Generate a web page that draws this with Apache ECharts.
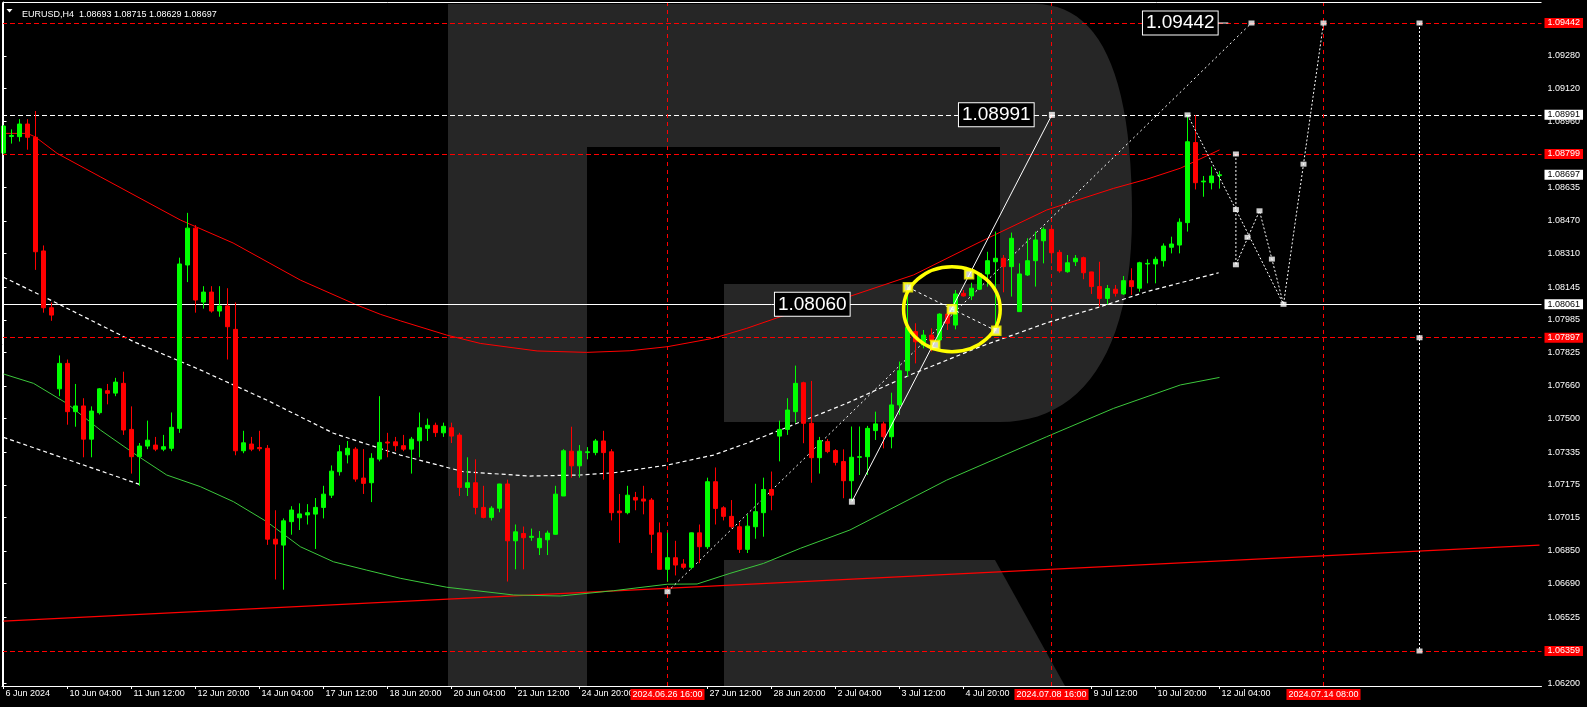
<!DOCTYPE html>
<html><head><meta charset="utf-8">
<script src="https://cdn.jsdelivr.net/npm/echarts@6/dist/echarts.min.js"></script>
<style>html,body{margin:0;padding:0;background:#000;overflow:hidden}#c{width:1587px;height:707px}</style>
</head><body><div id="c"></div>
<script>
// ---------- data ----------
const headerText = 'EURUSD,H4  1.08693 1.08715 1.08629 1.08697';
const xTickIdx = [0,8,16,24,32,40,48,56,64,72,88,96,104,112,120,136,144,152];
const xTickLabels = ['6 Jun 2024','10 Jun 04:00','11 Jun 12:00','12 Jun 20:00','14 Jun 04:00','17 Jun 12:00','18 Jun 20:00','20 Jun 04:00','21 Jun 12:00','24 Jun 20:00','27 Jun 12:00','28 Jun 20:00','2 Jul 04:00','3 Jul 12:00','4 Jul 20:00','9 Jul 12:00','10 Jul 20:00','12 Jul 04:00'];
const yTickVals = [1.062,1.06525,1.0669,1.0685,1.07015,1.07175,1.07335,1.075,1.0766,1.07825,1.07985,1.08145,1.0831,1.0847,1.08635,1.0896,1.0912,1.0928];

const openP = [1.08804,1.08885,1.08884,1.08946,1.08881,1.08323,1.08044,1.07646,1.07771,1.07534,
1.07562,1.07399,1.07529,1.07637,1.07625,1.07673,1.07447,1.07313,1.07365,1.07370,
1.07350,1.07354,1.07452,1.08254,1.08435,1.08072,1.08121,1.08028,1.08053,1.07938,
1.07342,1.07375,1.07358,1.07354,1.06908,1.06879,1.06994,1.07013,1.07027,1.07031,
1.07064,1.07124,1.07239,1.07322,1.07350,1.07208,1.07185,1.07301,1.07385,1.07386,
1.07367,1.07350,1.07391,1.07452,1.07467,1.07430,1.07455,1.07419,1.07162,1.07185,
1.07064,1.07015,1.07060,1.07179,1.06900,1.06936,1.06917,1.06866,1.06905,1.06932,
1.07120,1.07340,1.07268,1.07333,1.07333,1.07390,1.07337,1.07046,1.07038,1.07113,
1.07105,1.07100,1.06939,1.06760,1.06817,1.06786,1.06770,1.06939,1.06871,1.07190,
1.07062,1.07020,1.06969,1.06858,1.06969,1.07038,1.07152,1.07414,1.07447,1.07534,
1.07676,1.07477,1.07308,1.07387,1.07343,1.07289,1.07195,1.07310,1.07313,1.07441,
1.07474,1.07411,1.07567,1.07735,1.07927,1.07861,1.07910,1.07886,1.08013,1.07959,
1.08115,1.08102,1.08135,1.08210,1.08270,1.08287,1.08246,1.08025,1.08205,1.08275,
1.08373,1.08429,1.08316,1.08221,1.08270,1.08290,1.08220,1.08148,1.08090,1.08135,
1.08112,1.08177,1.08140,1.08259,1.08259,1.08275,1.08341,1.08352,1.08462,1.08855,
1.08662,1.08658,1.08693];
const highP = [1.0894,1.0892,1.0897,1.0897,1.0901,1.0835,1.0807,1.0781,1.0779,1.0767,
1.0760,1.0756,1.0765,1.0767,1.0770,1.0773,1.0756,1.0738,1.0749,1.0741,
1.0742,1.0753,1.0829,1.0851,1.0845,1.0815,1.0815,1.0815,1.0814,1.0807,
1.0744,1.0741,1.0744,1.0737,1.0705,1.0701,1.0707,1.07084,1.0708,1.0711,
1.0717,1.0727,1.0737,1.0739,1.0736,1.0735,1.0733,1.0761,1.0743,1.0741,
1.0742,1.0741,1.0753,1.0750,1.0748,1.0748,1.0748,1.0743,1.0731,1.0730,
1.0717,1.0707,1.0718,1.0720,1.0698,1.0697,1.0696,1.06948,1.0695,1.0717,
1.0735,1.0746,1.0737,1.0736,1.0740,1.0744,1.0735,1.0713,1.0717,1.0714,
1.0717,1.0711,1.0699,1.0694,1.0690,1.0681,1.0694,1.0698,1.0721,1.0726,
1.0707,1.0710,1.0699,1.0703,1.0718,1.0721,1.0724,1.0749,1.0760,1.0776,
1.07681,1.07685,1.0741,1.0740,1.0735,1.07349,1.07461,1.07461,1.07464,1.07534,
1.07485,1.07627,1.0778,1.08164,1.07968,1.07935,1.07943,1.08017,1.08036,1.08131,
1.08131,1.08167,1.08213,1.08319,1.08418,1.08303,1.08413,1.08262,1.08385,1.08418,
1.08439,1.0845,1.08328,1.08303,1.08303,1.08295,1.08221,1.0827,1.08156,1.08156,
1.082,1.08238,1.0827,1.08282,1.08295,1.0836,1.08393,1.08483,1.08991,1.0899,
1.08691,1.08737,1.08715];
const lowP = [1.0880,1.0885,1.0886,1.0882,1.0823,1.0802,1.0798,1.0761,1.0747,1.0746,
1.0731,1.0731,1.0752,1.0757,1.0761,1.0742,1.0723,1.0717,1.0735,1.0734,
1.0734,1.0734,1.0743,1.0817,1.0802,1.0804,1.0802,1.0800,1.0779,1.0732,
1.0733,1.0734,1.0734,1.0688,1.0671,1.0666,1.0693,1.06953,1.0698,1.0686,
1.0701,1.0711,1.0722,1.0728,1.0719,1.0713,1.0709,1.0729,1.0731,1.0734,
1.0734,1.0723,1.0731,1.0739,1.0741,1.0741,1.0738,1.0712,1.0712,1.0703,
1.0701,1.0700,1.0704,1.0670,1.0676,1.0676,1.0690,1.0683,1.0683,1.0693,
1.0712,1.0721,1.0721,1.0730,1.0732,1.0720,1.0700,1.0689,1.0703,1.0705,
1.0703,1.0684,1.0676,1.0670,1.0673,1.0676,1.0676,1.0679,1.0686,1.0698,
1.0700,1.0696,1.0684,1.0684,1.0691,1.0692,1.0705,1.0729,1.0742,1.0748,
1.07379,1.07185,1.0723,1.0733,1.0727,1.07109,1.07097,1.07223,1.07223,1.07395,
1.07354,1.07354,1.07518,1.07706,1.07771,1.07845,1.07829,1.07853,1.07935,1.07938,
1.08099,1.08082,1.08131,1.08148,1.07935,1.0812,1.08099,1.08025,1.082,1.08148,
1.08262,1.08262,1.08216,1.08216,1.08249,1.08184,1.08112,1.0805,1.08061,1.08099,
1.08107,1.08107,1.08123,1.08164,1.08164,1.08246,1.08311,1.08311,1.08418,1.08625,
1.08589,1.08625,1.08629];
const closeP = [1.08936,1.08890,1.08946,1.08881,1.08319,1.08044,1.08008,1.07771,1.07534,1.07562,
1.07399,1.07537,1.07646,1.07624,1.07679,1.07444,1.07313,1.07365,1.07394,1.07350,
1.07362,1.07457,1.08259,1.08435,1.08082,1.08121,1.08028,1.08053,1.07951,1.07342,
1.07381,1.07350,1.07352,1.06908,1.06884,1.06998,1.07051,1.07032,1.07038,1.07064,
1.07129,1.07242,1.07337,1.07354,1.07203,1.07182,1.07305,1.07383,1.07380,1.07367,
1.07350,1.07399,1.07455,1.07467,1.07431,1.07462,1.07414,1.07162,1.07185,1.07064,
1.07015,1.07060,1.07179,1.06900,1.06944,1.06915,1.06922,1.06912,1.06938,1.07129,
1.07342,1.07268,1.07340,1.07337,1.07390,1.07333,1.07038,1.07038,1.07124,1.07100,
1.07095,1.06932,1.06760,1.06817,1.06781,1.06770,1.06939,1.06871,1.07190,1.07059,
1.07020,1.06969,1.06858,1.06972,1.07043,1.07152,1.07124,1.07447,1.07542,1.07673,
1.07477,1.07308,1.07392,1.07338,1.07285,1.07195,1.07310,1.07313,1.07452,1.07474,
1.07411,1.07567,1.07735,1.07948,1.07877,1.07910,1.07882,1.08013,1.07968,1.08112,
1.08102,1.08140,1.08213,1.08275,1.08287,1.08246,1.08385,1.08210,1.08275,1.08377,
1.08429,1.08314,1.08225,1.08265,1.08287,1.08216,1.08148,1.08090,1.08138,1.08115,
1.08177,1.08148,1.08265,1.08262,1.08282,1.08347,1.08357,1.08464,1.08859,1.08658,
1.08666,1.08691,1.08697];

// indicator lines: [bar index, price]
const redMA = [[0,1.0890],[3,1.0890],[4,1.08882],[6.7,1.08802],[12.1,1.08687],[22.1,1.08475],[28.7,1.08362],[37.1,1.0818],[44.2,1.08057],[47.1,1.08012],[49.6,1.0798],[55.4,1.0791],[59.6,1.07869],[66.7,1.07832],[72.9,1.07825],[78.3,1.07833],[83,1.07853],[88.7,1.07894],[92.9,1.07943],[97.1,1.08],[105.4,1.08095],[113.75,1.08205],[122.1,1.08368],[130.4,1.08524],[138.75,1.0863],[142.9,1.08675],[147.1,1.08729],[152,1.08819]];
const greenMA = [[0,1.07719],[3.75,1.07673],[7.9,1.07575],[12.1,1.07444],[16.3,1.07329],[20.4,1.07223],[24.6,1.07166],[28.75,1.07092],[32.9,1.06994],[37.1,1.06871],[41.25,1.06797],[45.4,1.06756],[49.6,1.06716],[55.4,1.06672],[63.75,1.06634],[69.6,1.06629],[76.25,1.06655],[83,1.06687],[86.7,1.06688],[90.8,1.0674],[95,1.06789],[99.6,1.06863],[105.8,1.06953],[117.9,1.07198],[130.4,1.07411],[138.75,1.0755],[147.1,1.07665],[152,1.07702]];
const longRed = [[0,1.06506],[192,1.06879]];
const curveDashed = [[0,1.08194],[6.7,1.08066],[16.25,1.07878],[24.6,1.07739],[32.9,1.07591],[41.25,1.07428],[49.6,1.07321],[57.5,1.07239],[65.8,1.07218],[72.1,1.07223],[76.3,1.07234],[83,1.07272],[88.75,1.07321],[92.9,1.07379],[97.1,1.07444],[105.4,1.07575],[113.3,1.07714],[122.1,1.07853],[130.4,1.0797],[137.1,1.08049],[142.9,1.08123],[151.9,1.08216]];
const leftDashed = [[0,1.07408],[17,1.07177]];
const channelUp = [[83,1.0665],[156,1.09442]];
const solidTrend = [[106.05,1.07092],[131.05,1.08991]];
const crossDashed = [[113.05,1.08145],[124.1,1.07931]];
const boxConnector = [[151.7,1.09442],[153.1,1.09442]];
const forecastA = [[148,1.08991],[154.05,1.08526],[160,1.08061]];
const forecastB = [[154.05,1.08255],[157,1.0852],[158.55,1.08283],[160,1.08061],[162.5,1.08749],[165,1.09442]];
const forecastC = [[154.05,1.08799],[154.05,1.08255]];
const forecastD = [[177,1.09442],[177,1.06359]];
const arrowPts = [[148,1.08991],[154.05,1.08799],[154.05,1.08526],[154.05,1.08255],[155.5,1.0839],[157,1.0852],[158.55,1.08283],[160,1.08061],[162.5,1.08749],[165,1.09442],[177,1.09442],[177,1.07897],[177,1.06359],[83,1.0665],[156,1.09442]];
const squarePts = [[106.05,1.07092],[131.05,1.08991]];
const yellowPts = [[113.05,1.08145],[120.7,1.08208],[118.55,1.08037],[116.46,1.07861],[124.1,1.07931]];
const ellipseCenter = [118.55,1.08037];
const ellipseRadius = [6.04,0.002086];
const boxPos = [[124.1,1.08991],[101.1,1.08061],[147.1,1.09442]];
const boxTexts = ['1.08991','1.08060','1.09442'];

const redLevels = [1.09442,1.08799,1.07897,1.06359];
const whiteDashLevels = [1.08991];
const whiteSolidLevels = [1.08061];
const bidLevel = 1.08697;
const vLineIdx = [83,131,165];
const vLineLabels = ['2024.06.26 16:00','2024.07.08 16:00','2024.07.14 08:00'];

// ---------- chart ----------
const FONT = 'Liberation Sans';
const candleData = openP.map((o,i)=>[i,o,closeP[i],lowP[i],highP[i]]);
const chart = echarts.init(document.getElementById('c'), null, {width:1587, height:707});

// background logo outline (decoration, pixel space)
function bez(p0,p1,p2,p3,n){const out=[];for(let k=1;k<=n;k++){const t=k/n,u=1-t;
  out.push([u*u*u*p0[0]+3*u*u*t*p1[0]+3*u*t*t*p2[0]+t*t*t*p3[0], u*u*u*p0[1]+3*u*u*t*p1[1]+3*u*t*t*p2[1]+t*t*t*p3[1]]);}return out;}
const logoPts = [[448,4],[1035,4]]
  .concat(bez([1035,4],[1098,4],[1132,70],[1132,215],24))
  .concat(bez([1132,215],[1132,355],[1080,422],[1000,422],24))
  .concat([[724,422],[724,284],[1000,284],[1000,147],[587,147],[587,686],[448,686]]);
const legPts = [[724,560],[995,560],[1065,686],[724,686]];

function ln(data, color, width, type, z){
  return {type:'line', data, showSymbol:false, symbol:'none', silent:true, animation:false,
    lineStyle:{color, width, type: type||'solid'}, z: z||3, clip:true};
}
const tagLabel = (bg, fg) => ({show:true, position:'end', distance:3, formatter:p=>Number(p.value).toFixed(5),
  color:fg, backgroundColor:bg, padding:[1,3,0,3], fontSize:9, fontFamily:FONT, lineHeight:9});

const markData = [];
redLevels.forEach(v=>markData.push({yAxis:v, lineStyle:{color:'#ff0000', type:[5,3], width:1}, label:tagLabel('#ff0000','#ffffff')}));
whiteDashLevels.forEach(v=>markData.push({yAxis:v, lineStyle:{color:'#ffffff', type:[5,3], width:1}, label:tagLabel('#ffffff','#000000')}));
whiteSolidLevels.forEach(v=>markData.push({yAxis:v, lineStyle:{color:'#ffffff', type:'solid', width:1}, label:tagLabel('#ffffff','#000000')}));
markData.push({yAxis:bidLevel, lineStyle:{color:'rgba(0,0,0,0)', width:0}, label:tagLabel('#ffffff','#000000')});
vLineIdx.forEach((v,k)=>markData.push({xAxis:v, lineStyle:{color:'#ff0000', type:[4,4], width:1},
  label:{show:true, position:'start', distance:3, formatter:vLineLabels[k], color:'#ffffff', backgroundColor:'#ff0000', padding:[1,2,0,2], fontSize:9, fontFamily:FONT, lineHeight:10}}));

const option = {
  backgroundColor:'#000000',
  animation:false,
  title:{text:headerText, left:17, top:5, textStyle:{color:'#ffffff', fontSize:9, fontWeight:'normal', fontFamily:FONT}},
  grid:{left:2, right:45.5, top:2, bottom:21, outerBoundsMode:'none', containLabel:false},
  xAxis:{type:'value', min:-0.1875, max:192.25, position:'bottom',
    axisLine:{show:true, lineStyle:{color:'#ffffff', width:1}},
    axisTick:{show:true, customValues:xTickIdx, length:3, lineStyle:{color:'#ffffff'}},
    axisLabel:{show:true, customValues:xTickIdx, formatter:v=>{const k=xTickIdx.indexOf(v);return k>=0?xTickLabels[k]:'';},
      align:'left', margin:3, padding:[0,0,0,2], color:'#ffffff', fontSize:9, fontFamily:FONT, hideOverlap:false},
    splitLine:{show:false}},
  yAxis:{type:'value', position:'right', min:1.061872, max:1.095451,
    axisLine:{show:true, lineStyle:{color:'#ffffff', width:1}},
    axisTick:{show:true, customValues:yTickVals, length:3, lineStyle:{color:'#ffffff'}},
    axisLabel:{show:true, customValues:yTickVals, formatter:v=>Number(v).toFixed(5), align:'left', margin:6,
      color:'#ffffff', fontSize:9, fontFamily:FONT, hideOverlap:false},
    splitLine:{show:false}},
  graphic:[
    {type:'polygon', z:-1, silent:true, shape:{points:logoPts}, style:{fill:'#262626'}},
    {type:'polygon', z:-1, silent:true, shape:{points:legPts}, style:{fill:'#262626'}},
    {type:'polyline', z:50, silent:true, shape:{points:[[2.5,686],[2.5,2.5],[1541.5,2.5]]}, style:{stroke:'#ffffff', lineWidth:1, fill:null}},
    {type:'polygon', z:50, silent:true, shape:{points:[[6.5,9],[12.5,9],[9.5,12.5]]}, style:{fill:'#ffffff'}}
  ],
  series:[
    {type:'line', data:[], silent:true, z:2, markLine:{silent:true, precision:5, symbol:['none','none'], animation:false, data:markData}},
    ln(longRed,'#ff0000',1.3,'solid',3),
    ln(greenMA,'#3cc83c',1,'solid',3),
    ln(redMA,'#ff0000',1,'solid',3),
    ln(curveDashed,'#ffffff',1.2,[4,3],3),
    ln(leftDashed,'#ffffff',1.2,[4,3],3),
    ln(channelUp,'#ffffff',1,[2,3],3),
    {type:'candlestick', data:candleData, barWidth:4, z:5, silent:true, animation:false,
      itemStyle:{color:'#00ff00', color0:'#ff0000', borderColor:'#00ff00', borderColor0:'#ff0000', borderColorDoji:'#00ff00', borderWidth:1}},
    ln(solidTrend,'#ffffff',1,'solid',6),
    ln(crossDashed,'#ffffff',1,[3,3],6),
    ln(boxConnector,'#ffffff',1,'solid',6),
    ln(forecastA,'#ffffff',1,[2,2],6),
    ln(forecastB,'#ffffff',1,[2,2],6),
    ln(forecastC,'#ffffff',1,[2,2],6),
    ln(forecastD,'#ffffff',1,[2,2],6),
    {type:'custom', z:7, silent:true, animation:false, data:[[ellipseCenter[0],ellipseCenter[1],ellipseRadius[0],ellipseRadius[1]]],
      renderItem:(params,api)=>{const c=api.coord([api.value(0),api.value(1)]);const e=api.coord([api.value(0)+api.value(2),api.value(1)+api.value(3)]);
        return {type:'ellipse', shape:{cx:c[0],cy:c[1],rx:Math.abs(e[0]-c[0]),ry:Math.abs(e[1]-c[1])}, style:{fill:null, stroke:'#ffff00', lineWidth:3.5}};}},
    {type:'scatter', data:arrowPts, symbol:'rect', symbolSize:[6,5], z:8, silent:true, itemStyle:{color:'#ffffff'}},
    {type:'scatter', data:squarePts, symbol:'rect', symbolSize:6, z:8, silent:true, itemStyle:{color:'#ffffff'}},
    {type:'scatter', data:yellowPts, symbol:'rect', symbolSize:8, z:8, silent:true, itemStyle:{color:'#ffffff', borderColor:'#ffff00', borderWidth:2.5}},
    {type:'custom', z:9, silent:true, animation:false, data:boxPos,
      renderItem:(params,api)=>{const c=api.coord([api.value(0),api.value(1)]);
        return {type:'text', x:c[0], y:c[1], style:{text:boxTexts[params.dataIndex], fill:'#ffffff', fontSize:19, fontFamily:FONT,
          align:'center', verticalAlign:'middle', backgroundColor:'#000000', borderColor:'#ffffff', borderWidth:1, padding:[2,3,1,3], lineHeight:20}};}}
  ]
};
chart.setOption(option);
</script>
</body></html>
